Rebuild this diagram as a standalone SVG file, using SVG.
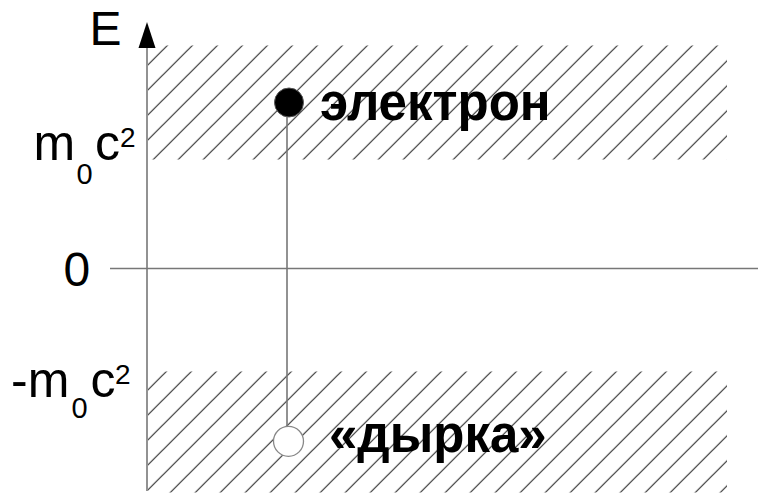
<svg xmlns="http://www.w3.org/2000/svg" width="758" height="493" viewBox="0 0 758 493">
<style>
.lbl{font-family:"Liberation Sans",Arial,sans-serif;fill:#000;font-size:50px}
.bold{font-family:"Liberation Sans",Arial,sans-serif;font-weight:bold;font-size:51px;fill:#000}
.axis{stroke:#777;stroke-width:1.6;fill:none}
.conn{stroke:#777;stroke-width:1.6;fill:none}
.sub{font-size:29px}
.sup{font-size:28px}
</style>
<defs>
<pattern id="hatch" patternUnits="userSpaceOnUse" x="12.8" y="0" width="25" height="25">
<path d="M-5,5 L5,-5 M0,25 L25,0 M20,30 L30,20" stroke="#333" stroke-width="1.2"/>
</pattern>
</defs>
<g id="bands">
<rect id="upper-band" x="148" y="45.5" width="579" height="114" fill="url(#hatch)"/>
<rect id="lower-band" x="148" y="371.5" width="579" height="121" fill="url(#hatch)"/>
</g>
<g id="axes">
<line class="axis" x1="147" y1="491" x2="147" y2="46"/>
<polygon points="147,22 138.5,48 155.5,48" fill="#000"/>
<line class="axis" x1="110" y1="268.5" x2="758" y2="268.5"/>
</g>
<g id="connectors">
<line class="conn" x1="287" y1="102" x2="287" y2="426"/>
</g>
<g id="electron">
<circle cx="289" cy="102.5" r="14.5" fill="#000" stroke="#555" stroke-width="1"/>
<text class="bold" x="320" y="120">электрон</text>
</g>
<g id="hole">
<circle cx="288.5" cy="441.3" r="15" fill="#fff" stroke="#888" stroke-width="1.3"/>
<text class="bold" x="329" y="452">«дырка»</text>
</g>
<g id="labels">
<text class="lbl" x="89.5" y="45" style="font-size:48px">E</text>
<text class="lbl" y="160"><tspan x="33.4">m</tspan><tspan class="sub" x="76.5" y="184">0</tspan><tspan x="95" y="160">c</tspan><tspan class="sup" x="120" y="146.5">2</tspan></text>
<text class="lbl" x="63.5" y="286" style="font-size:48px">0</text>
<text class="lbl" y="397"><tspan x="11">-m</tspan><tspan class="sub" x="71.5" y="418">0</tspan><tspan x="90.5" y="397">c</tspan><tspan class="sup" x="115" y="383.5">2</tspan></text>
</g>
</svg>
